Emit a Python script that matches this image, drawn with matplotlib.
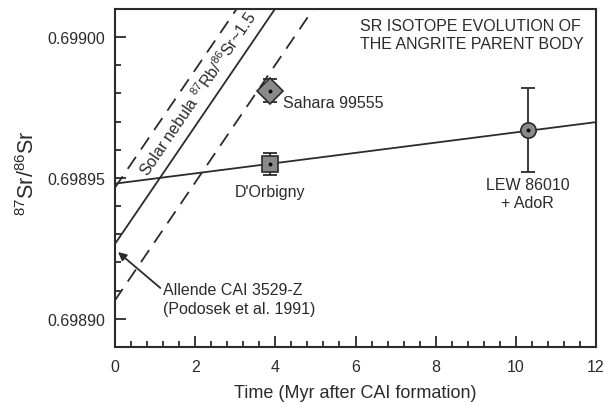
import numpy as np
import matplotlib
matplotlib.use("Agg")
import matplotlib.pyplot as plt
from matplotlib.ticker import MultipleLocator, FormatStrFormatter

plt.rcParams['font.family'] = ['Liberation Sans', 'DejaVu Sans']
plt.rcParams['mathtext.fontset'] = 'custom'
plt.rcParams['mathtext.rm'] = 'Liberation Sans'
plt.rcParams['mathtext.it'] = 'Liberation Sans:italic'
plt.rcParams['mathtext.bf'] = 'Liberation Sans:bold'

# ---- data ----
names = ["Sahara 99555", "D'Orbigny", "LEW 86010\n+ AdoR"]
times = [3.87, 3.87, 10.3]
sr_ratio = [0.698981, 0.698955, 0.698967]
sr_err = [0.000004, 0.000004, 0.000015]
markers = ["D", "s", "o"]
marker_sizes = [13, 11.5, 11]

angrite_intercept = 0.698948
angrite_slope = 0.00000182      # per Myr

solar_intercept = 0.6989266
solar_slope = 0.0000209         # per Myr (87Rb/86Sr ~1.5)
solar_band = 0.00002

xlim = (0, 12)
ylim = (0.69889, 0.69901)

dark = "#2b2b2b"
grey = "#8a8a8a"

fig = plt.figure(figsize=(6.05, 4.06), dpi=100)
ax = fig.add_axes([115/605, 1-348/406, (596-115)/605, (348-10)/406])
ax.set_xlim(*xlim)
ax.set_ylim(*ylim)

xs = np.array(xlim, dtype=float)
xs_ext = np.array([-1, 13], dtype=float)
# angrite evolution line
ax.plot(xs, angrite_intercept + angrite_slope*xs, color=dark, lw=1.3, zorder=2)
# solar nebula line and band
ax.plot(xs_ext, solar_intercept + solar_slope*xs_ext, color=dark, lw=1.3, zorder=2)
for off in (solar_band, -solar_band):
    ax.plot(xs_ext, solar_intercept + off + solar_slope*xs_ext, color=dark, lw=1.3,
            dashes=(8, 5), zorder=2)

# data points
for t, v, e, m, ms in zip(times, sr_ratio, sr_err, markers, marker_sizes):
    ax.errorbar(t, v, yerr=e, fmt='none', ecolor=dark, elinewidth=1.3, capsize=5,
                capthick=1.3, zorder=3)
    ax.plot(t, v, marker=m, ms=ms, mfc=grey, mec=dark, mew=1.2, ls='none', zorder=4)
    ax.plot(t, v, marker='o', ms=1.8, color='black', ls='none', zorder=5)

fs = 11.5
ax.text(4.19, 0.6989795, names[0], fontsize=fs, color=dark, ha='left', va='top')
ax.text(3.87, 0.698948, names[1], fontsize=fs, color=dark, ha='center', va='top')
ax.text(10.3, 0.6989505, names[2], fontsize=fs, color=dark, ha='center', va='top',
        linespacing=1.25)

ax.text(0.509, 0.972, "SR ISOTOPE EVOLUTION OF\nTHE ANGRITE PARENT BODY", transform=ax.transAxes,
        fontsize=fs, color=dark, ha='left', va='top', linespacing=1.2)

# solar nebula label rotated along the line
p1 = ax.transData.transform((0, solar_intercept))
p2 = ax.transData.transform((4, solar_intercept + 4*solar_slope))
ang = np.degrees(np.arctan2(p2[1]-p1[1], p2[0]-p1[0]))
ax.text(0.82, 0.6989505, r"Solar nebula $^{87}$Rb/$^{86}$Sr~1.5", fontsize=fs, color=dark,
        rotation=ang, rotation_mode='anchor', ha='left', va='baseline')

ax.annotate("Allende CAI 3529-Z\n(Podosek et al. 1991)", xy=(0.075, 0.6989237),
            xytext=(1.2, 0.6989070), fontsize=fs, color=dark, ha='left', va='center',
            linespacing=1.3,
            arrowprops=dict(arrowstyle='-|>', color=dark, lw=1.3, shrinkA=0, shrinkB=0,
                            mutation_scale=12,
                            relpos=(-0.01, 0.8)))

# axes styling
for s in ax.spines.values():
    s.set_color(dark)
    s.set_linewidth(1.5)
ax.xaxis.set_major_locator(MultipleLocator(2))
ax.xaxis.set_minor_locator(MultipleLocator(0.4))
ax.yaxis.set_major_locator(MultipleLocator(0.00005))
ax.yaxis.set_minor_locator(MultipleLocator(0.00001))
ax.yaxis.set_major_formatter(FormatStrFormatter('%.5f'))
ax.tick_params(which='both', direction='in', top=False, right=False, colors=dark,
               labelsize=11.5, width=1.3)
ax.tick_params(which='major', length=8, pad=7)
ax.tick_params(which='minor', length=4.5)
ax.tick_params(axis='x', which='major', pad=9)

ax.set_xlabel("Time (Myr after CAI formation)", fontsize=13, color=dark, labelpad=7)
ax.set_ylabel(r"$^{87}$Sr/$^{86}$Sr", fontsize=15.5, color=dark)
ax.yaxis.set_label_coords((28-115)/481, 1-(173-10)/338)
ax.yaxis.label.set_va('center')

fig.savefig("out.png", dpi=100)
